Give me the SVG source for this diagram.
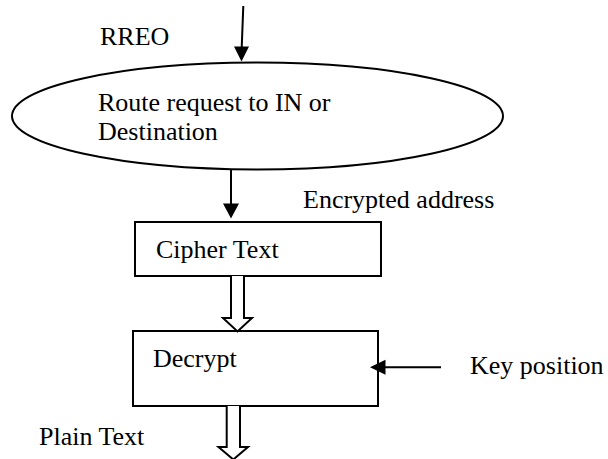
<svg xmlns="http://www.w3.org/2000/svg" width="608" height="459" viewBox="0 0 608 459">
  <style>
    text { font-family: "Liberation Serif", "Times New Roman", serif; font-size: 26px; fill: #000; }
    .shape { fill: #fff; stroke: #000; stroke-width: 2; }
    .line { fill: none; stroke: #000; stroke-width: 2; }
    .head { fill: #000; stroke: none; }
    .hollow { fill: #fff; stroke: #000; stroke-width: 2; stroke-linejoin: miter; }
  </style>
  <rect width="608" height="459" fill="#fff"/>

  <!-- free labels -->
  <text x="100" y="45">RREO</text>
  <text x="303" y="208">Encrypted address</text>
  <text x="470" y="374">Key position</text>
  <text x="39" y="445">Plain Text</text>

  <g id="route">
    <ellipse class="shape" cx="257.5" cy="116" rx="245.5" ry="53.5"/>
    <text x="98" y="111">Route request to IN or</text>
    <text x="98" y="140">Destination</text>
  </g>

  <g id="cipher">
    <rect class="shape" x="135" y="222" width="246" height="54"/>
    <text x="156" y="258">Cipher Text</text>
  </g>

  <g id="decrypt">
    <rect class="shape" x="133" y="331" width="245" height="75"/>
    <text x="153" y="367">Decrypt</text>
  </g>

  <g id="connectors">
    <!-- RREO into route request -->
    <line class="line" x1="243.3" y1="6" x2="241.7" y2="48"/>
    <polygon class="head" points="234,46.5 249,46.5 241.5,61.5"/>
    <!-- route request to cipher text -->
    <line class="line" x1="231" y1="169" x2="231" y2="205"/>
    <polygon class="head" points="223,203.5 239,203.5 231,218.5"/>
    <!-- cipher text to decrypt (hollow block arrow) -->
    <path class="hollow" d="M231,276 V318 H223 L237.5,331.5 L252,318 H244 V276"/>
    <!-- key position into decrypt -->
    <line class="line" x1="441" y1="367.3" x2="383" y2="367.3"/>
    <polygon class="head" points="370,367.3 385.5,359.8 385.5,374.8"/>
    <!-- decrypt output (hollow block arrow) -->
    <path class="hollow" d="M226.7,406 V447 H218.5 L233.3,459.5 L248,447 H240 V406"/>
  </g>
</svg>
